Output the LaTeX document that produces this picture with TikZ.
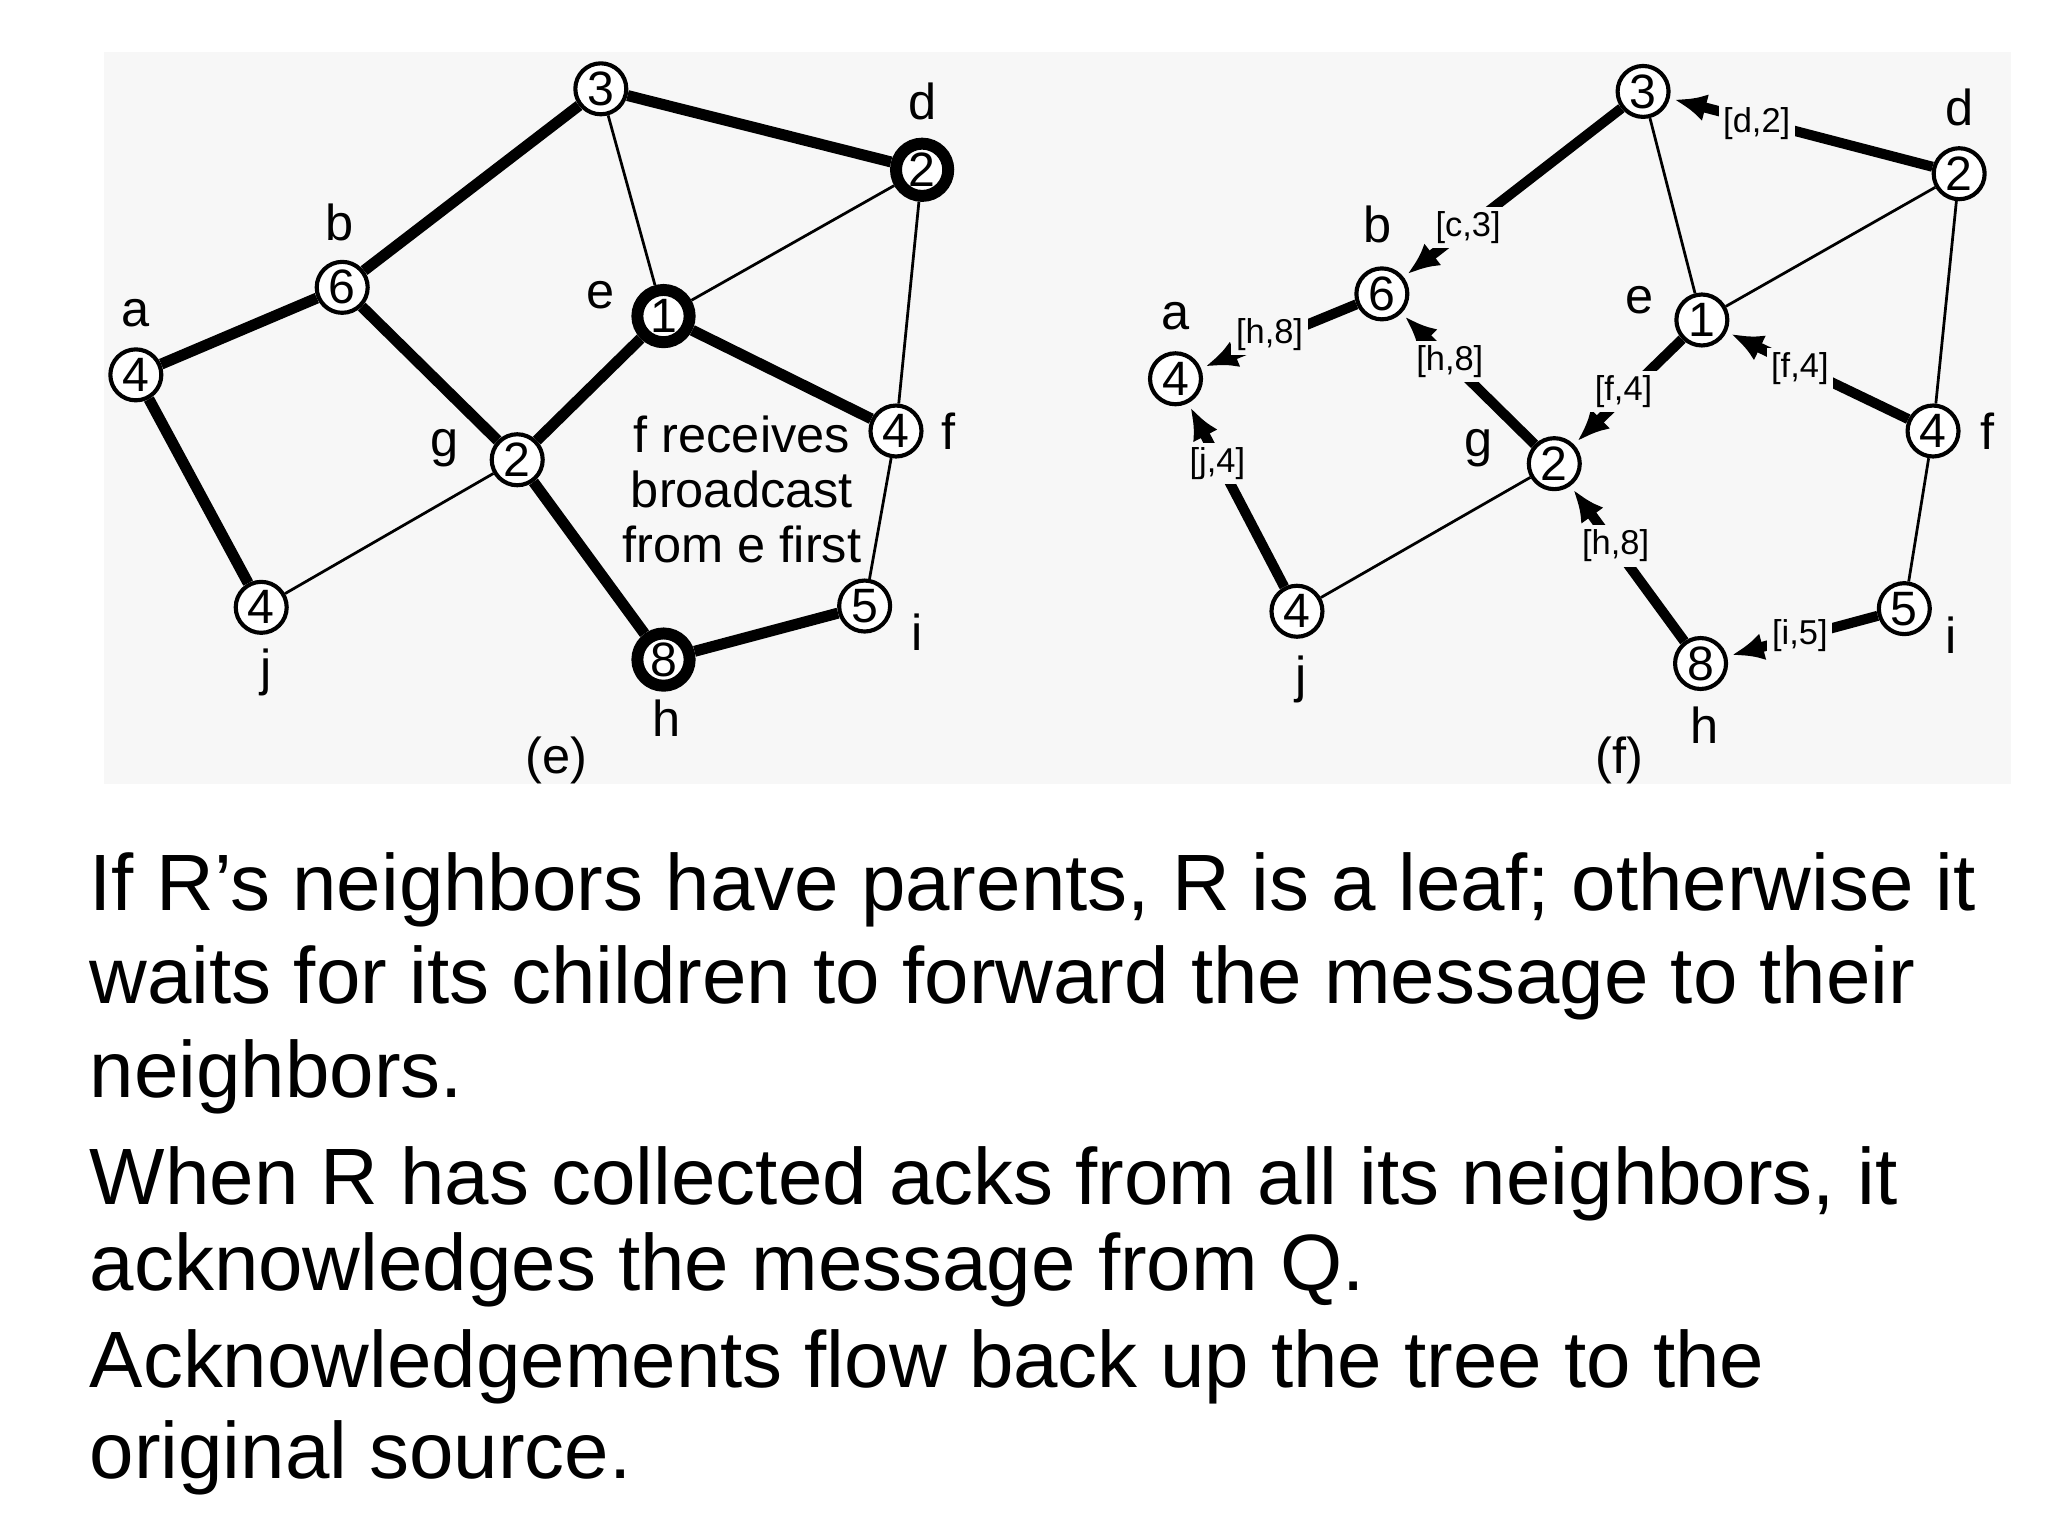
\documentclass[tikz,border=0pt]{standalone}
\usepackage{fontspec}
\setmainfont{Liberation Sans}
\usetikzlibrary{arrows.meta}
\pgfdeclarelayer{bg}
\pgfsetlayers{bg,main}
\begin{document}
\begin{tikzpicture}[x=0.01cm,y=-0.01cm,
 nd/.style={circle,draw,line width=0.9pt,fill=white,inner sep=0pt,minimum size=0.39cm,font=\fontsize{10.5}{12}\selectfont},
 nt/.style={nd,line width=2.6pt,minimum size=0.40cm},
 lb/.style={font=\fontsize{11}{12}\selectfont},
 tk/.style={line width=2.4pt},
 tn/.style={line width=0.6pt},
 ar/.style={line width=2.2pt,-{Latex[length=7pt,width=6pt]},shorten >=1pt},
 sl/.style={font=\fontsize{7.5}{8}\selectfont,inner sep=1pt,fill=black!3},
 bt/.style={anchor=base west,font=\fontsize{17.4}{20}\selectfont,inner sep=0pt}]
\useasboundingbox (0,0) rectangle (1568,1176);
% ---- (e)
\node[nd] (e3) at (460,68) {3};
\node[nt] (e2) at (706,130) {2};
\node[nd] (e6) at (262,220) {6};
\node[nd] (e4a) at (104,287) {4};
\node[nt] (e1) at (508,242) {1};
\node[nd] (e2g) at (396,352) {2};
\node[nd] (e4f) at (686,330) {4};
\node[nd] (e4j) at (200,465) {4};
\node[nd] (e5) at (662,464) {5};
\node[nt] (e8) at (508,505) {8};
\node[lb] at (706,78) {d};
\node[lb] at (260,170) {b};
\node[lb] at (104,240) {a};
\node[lb] at (460,226) {e};
\node[lb] at (340,343) {g};
\node[lb] at (726,330) {f};
\node[lb] at (204,515) {j};
\node[lb] at (702,484) {i};
\node[lb] at (510,550) {h};
\node[lb] at (426,582) {(e)};
\node[lb,align=center] at (568,375) {f receives\\broadcast\\from e first};
% ---- (f)
\node[nd] (f3) at (1258,70) {3};
\node[nd] (f2) at (1500,133) {2};
\node[nd] (f6) at (1058,225) {6};
\node[nd] (f4a) at (900,290) {4};
\node[nd] (f1) at (1303,245) {1};
\node[nd] (f2g) at (1190,355) {2};
\node[nd] (f4f) at (1480,330) {4};
\node[nd] (f4j) at (993,468) {4};
\node[nd] (f5) at (1458,466) {5};
\node[nd] (f8) at (1302,508) {8};
\node[lb] at (1500,82) {d};
\node[lb] at (1055,172) {b};
\node[lb] at (900,242) {a};
\node[lb] at (1255,230) {e};
\node[lb] at (1132,343) {g};
\node[lb] at (1522,330) {f};
\node[lb] at (996,520) {j};
\node[lb] at (1494,486) {i};
\node[lb] at (1305,555) {h};
\node[lb] at (1240,582) {(f)};
\begin{pgfonlayer}{bg}
\fill[black!3] (80,40) rectangle (1540,600);
\draw[tk] (e4a)--(e6); \draw[tk] (e6)--(e3); \draw[tk] (e3)--(e2);
\draw[tk] (e6)--(e2g); \draw[tk] (e4a)--(e4j); \draw[tk] (e2g)--(e1);
\draw[tk] (e1)--(e4f); \draw[tk] (e2g)--(e8); \draw[tk] (e8)--(e5);
\draw[tn] (e3)--(e1); \draw[tn] (e1)--(e2); \draw[tn] (e2)--(e4f);
\draw[tn] (e4f)--(e5); \draw[tn] (e2g)--(e4j);
\draw[ar] (f2)--(f3); \draw[ar] (f3)--(f6); \draw[ar] (f6)--(f4a);
\draw[ar] (f4j)--(f4a); \draw[ar] (f2g)--(f6); \draw[ar] (f1)--(f2g);
\draw[ar] (f4f)--(f1); \draw[ar] (f8)--(f2g); \draw[ar] (f5)--(f8);
\draw[tn] (f3)--(f1); \draw[tn] (f1)--(f2); \draw[tn] (f2)--(f4f);
\draw[tn] (f4f)--(f5); \draw[tn] (f2g)--(f4j);
\end{pgfonlayer}
\node[sl] at (1345,95) {[d,2]};
\node[sl] at (1124,174) {[c,3]};
\node[sl] at (972,256) {[h,8]};
\node[sl] at (1110,277) {[h,8]};
\node[sl] at (1243,300) {[f,4]};
\node[sl] at (1378,282) {[f,4]};
\node[sl] at (932,355) {[j,4]};
\node[sl] at (1237,418) {[h,8]};
\node[sl] at (1378,487) {[i,5]};
% ---- text
\node[bt] at (68,697) {If R’s neighbors have parents, R is a leaf; otherwise it};
\node[bt] at (68,768) {waits for its children to forward the message to their};
\node[bt] at (68,840) {neighbors.};
\node[bt] at (68,922) {When R has collected acks from all its neighbors, it};
\node[bt] at (68,988) {acknowledges the message from Q.};
\node[bt] at (68,1062) {Acknowledgements flow back up the tree to the};
\node[bt] at (68,1132) {original source.};
\end{tikzpicture}
\end{document}
